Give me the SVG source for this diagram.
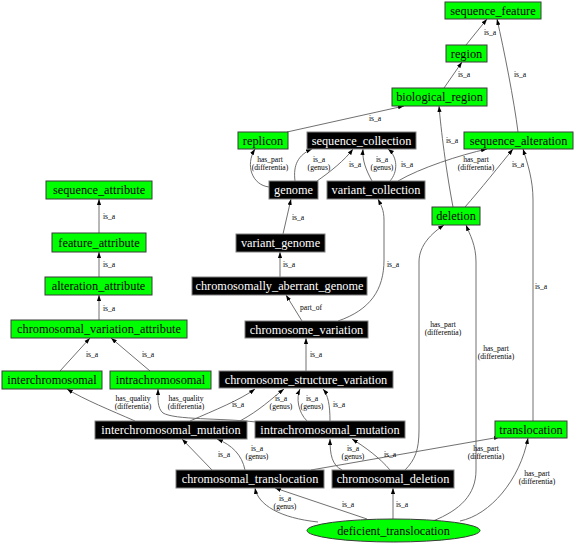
<svg xmlns="http://www.w3.org/2000/svg" width="576" height="544" viewBox="0 0 576 544">
<style>
.g rect,.g ellipse{fill:#00ff00;stroke:#3a3a3a;stroke-width:1}
.b rect{fill:#000;stroke:#808080;stroke-width:1}
.g text{fill:#000}
.b text{fill:#fff}
text.n{font-family:"Liberation Serif",serif;font-size:12.3px;text-anchor:middle}
#edges path{fill:none;stroke:#606060;stroke-width:0.9;marker-end:url(#ah)}
#edges text{font-family:"Liberation Serif",serif;font-size:7.6px;text-anchor:middle;fill:#000}
</style>
<defs>
<marker id="ah" viewBox="0 0 10 10" refX="10" refY="5" markerWidth="6" markerHeight="6" orient="auto" markerUnits="userSpaceOnUse">
<path d="M0,1.5 L10,5 L0,8.5z" fill="#000"/>
</marker>
</defs>
<rect width="576" height="544" fill="#fff"/>
<g id="edges">
<path d="M466,45 L487,19"/><text x="490" y="35">is_a</text>
<path d="M444,88 L462,62"/><text x="464" y="77">is_a</text>
<path d="M518,132 C514,100 504,50 497,19"/><text x="520" y="77">is_a</text>
<path d="M287,132 L404,106"/><text x="375" y="121">is_a</text>
<path d="M269,187 C252,185 245,165 255,149"/><text x="270" y="162">has_part</text><text x="270" y="170">(differentia)</text>
<path d="M295,181 C293,165 298,155 312,149"/><text x="319" y="162">is_a</text><text x="319" y="170">(genus)</text>
<path d="M317,181 C330,172 345,160 353,149"/><text x="355" y="167">is_a</text>
<path d="M372,181 C366,170 362,160 363,149"/><text x="382" y="162">is_a</text><text x="382" y="170">(genus)</text>
<path d="M390,181 C398,172 398,157 388,149"/><text x="407" y="167">is_a</text>
<path d="M398,181 C420,168 460,155 487,149"/><text x="476" y="162">has_part</text><text x="476" y="170">(differentia)</text>
<path d="M465,207 C480,190 500,165 513,149"/><text x="518" y="167">is_a</text>
<path d="M453,207 C446,170 441,130 439,106"/><text x="452" y="143">is_a</text>
<path d="M533,421 L533,200 C533,180 528,165 523,149"/><text x="541" y="289">is_a</text>
<path d="M405,470 C415,460 419,450 419,430 L419,262 C419,245 432,233 444,225"/><text x="443" y="327">has_part</text><text x="443" y="335">(differentia)</text>
<path d="M433,521 C460,510 476,495 476,470 L476,262 C476,245 470,235 466,225"/><text x="496" y="351">has_part</text><text x="496" y="359">(differentia)</text>
<path d="M460,521 C490,515 520,480 528,438"/><text x="537" y="476">has_part</text><text x="537" y="484">(differentia)</text>
<path d="M311,470 L500,437"/><text x="486" y="451">has_part</text><text x="486" y="459">(differentia)</text>
<path d="M302,321 L286,295"/><text x="311" y="310">part_of</text>
<path d="M338,321 C370,310 384,290 384,260 L384,220 C384,210 381,205 378,199"/><text x="393" y="267">is_a</text>
<path d="M280,277 L280,252"/><text x="289" y="267">is_a</text>
<path d="M283,234 L291,199"/><text x="298" y="220">is_a</text>
<path d="M99,233 L99,199"/><text x="109" y="219">is_a</text>
<path d="M99,277 L99,252"/><text x="109" y="267">is_a</text>
<path d="M99,320 L99,295"/><text x="109" y="311">is_a</text>
<path d="M60,371 L90,338"/><text x="92" y="357">is_a</text>
<path d="M150,371 L111,338"/><text x="148" y="357">is_a</text>
<path d="M306,371 L306,338"/><text x="316" y="357">is_a</text>
<path d="M135,421 C110,410 85,400 67,389"/><text x="133" y="401">has_quality</text><text x="133" y="409">(differentia)</text>
<path d="M256,422 C220,418 175,420 163,413 C157,408 158,398 158,389"/><text x="186" y="401">has_quality</text><text x="186" y="409">(differentia)</text>
<path d="M190,421 C215,410 240,400 255,389"/><text x="238" y="407">is_a</text>
<path d="M240,421 C260,410 270,400 284,389"/><text x="281" y="401">is_a</text><text x="281" y="409">(genus)</text>
<path d="M307,421 C298,412 296,398 300,389"/><text x="312" y="401">is_a</text><text x="312" y="409">(genus)</text>
<path d="M330,421 C330,405 328,395 323,389"/><text x="339" y="407">is_a</text>
<path d="M212,470 L182,439"/><text x="224" y="457">is_a</text>
<path d="M245,470 C242,455 232,445 217,439"/><text x="257" y="451">is_a</text><text x="257" y="459">(genus)</text>
<path d="M342,470 C332,465 330,455 330,439"/><text x="353" y="451">is_a</text><text x="353" y="459">(genus)</text>
<path d="M390,470 C380,458 365,447 352,439"/><text x="390" y="457">is_a</text>
<path d="M318,522 C280,518 258,505 255,488"/><text x="285" y="501">is_a</text><text x="285" y="509">(genus)</text>
<path d="M367,519 L275,488"/><text x="348" y="507">is_a</text>
<path d="M393,519 L393,488"/><text x="402" y="507">is_a</text>
</g>
<g id="sequence_feature" class="g"><rect x="445" y="2" width="96" height="17"/><text class="n" x="493" y="14.5">sequence_feature</text></g>
<g id="region" class="g"><rect x="446" y="45" width="41" height="17"/><text class="n" x="466.5" y="57.5">region</text></g>
<g id="biological_region" class="g"><rect x="392" y="88" width="95" height="18"/><text class="n" x="439.5" y="101">biological_region</text></g>
<g id="replicon" class="g"><rect x="238" y="132" width="50" height="17"/><text class="n" x="263" y="144.5">replicon</text></g>
<g id="sequence_collection" class="b"><rect x="307" y="132" width="109" height="17"/><text class="n" x="361.5" y="144.5">sequence_collection</text></g>
<g id="sequence_alteration" class="g"><rect x="464" y="132" width="109" height="17"/><text class="n" x="518.5" y="144.5">sequence_alteration</text></g>
<g id="genome" class="b"><rect x="269" y="181" width="49" height="18"/><text class="n" x="293.5" y="194">genome</text></g>
<g id="variant_collection" class="b"><rect x="327" y="181" width="98" height="18"/><text class="n" x="376" y="194">variant_collection</text></g>
<g id="deletion" class="g"><rect x="432" y="207" width="48" height="18"/><text class="n" x="456" y="220">deletion</text></g>
<g id="sequence_attribute" class="g"><rect x="46" y="181" width="106" height="18"/><text class="n" x="99" y="194">sequence_attribute</text></g>
<g id="feature_attribute" class="g"><rect x="52" y="233" width="94" height="19"/><text class="n" x="99" y="246.5">feature_attribute</text></g>
<g id="alteration_attribute" class="g"><rect x="45" y="277" width="107" height="18"/><text class="n" x="98.5" y="290">alteration_attribute</text></g>
<g id="chromosomal_variation_attribute" class="g"><rect x="11" y="320" width="176" height="18"/><text class="n" x="99" y="333">chromosomal_variation_attribute</text></g>
<g id="variant_genome" class="b"><rect x="236" y="234" width="89" height="18"/><text class="n" x="280.5" y="247">variant_genome</text></g>
<g id="chromosomally_aberrant_genome" class="b"><rect x="192" y="277" width="175" height="18"/><text class="n" x="279.5" y="290">chromosomally_aberrant_genome</text></g>
<g id="chromosome_variation" class="b"><rect x="245" y="321" width="123" height="17"/><text class="n" x="306.5" y="333.5">chromosome_variation</text></g>
<g id="chromosome_structure_variation" class="b"><rect x="219" y="371" width="174" height="17"/><text class="n" x="306" y="383.5">chromosome_structure_variation</text></g>
<g id="interchromosomal" class="g"><rect x="2" y="371" width="100" height="18"/><text class="n" x="52" y="384">interchromosomal</text></g>
<g id="intrachromosomal" class="g"><rect x="110" y="371" width="101" height="18"/><text class="n" x="160.5" y="384">intrachromosomal</text></g>
<g id="interchromosomal_mutation" class="b"><rect x="95" y="421" width="152" height="18"/><text class="n" x="171" y="434">interchromosomal_mutation</text></g>
<g id="intrachromosomal_mutation" class="b"><rect x="255" y="421" width="150" height="17"/><text class="n" x="330" y="433.5">intrachromosomal_mutation</text></g>
<g id="translocation" class="g"><rect x="495" y="421" width="72" height="17"/><text class="n" x="531" y="433.5">translocation</text></g>
<g id="chromosomal_translocation" class="b"><rect x="176" y="470" width="148" height="18"/><text class="n" x="250" y="483">chromosomal_translocation</text></g>
<g id="chromosomal_deletion" class="b"><rect x="332" y="470" width="122" height="18"/><text class="n" x="393" y="483">chromosomal_deletion</text></g>
<g id="deficient_translocation" class="g"><ellipse cx="393.5" cy="530.5" rx="86.5" ry="11.5"/><text class="n" x="393.5" y="534.5">deficient_translocation</text></g>
</svg>
